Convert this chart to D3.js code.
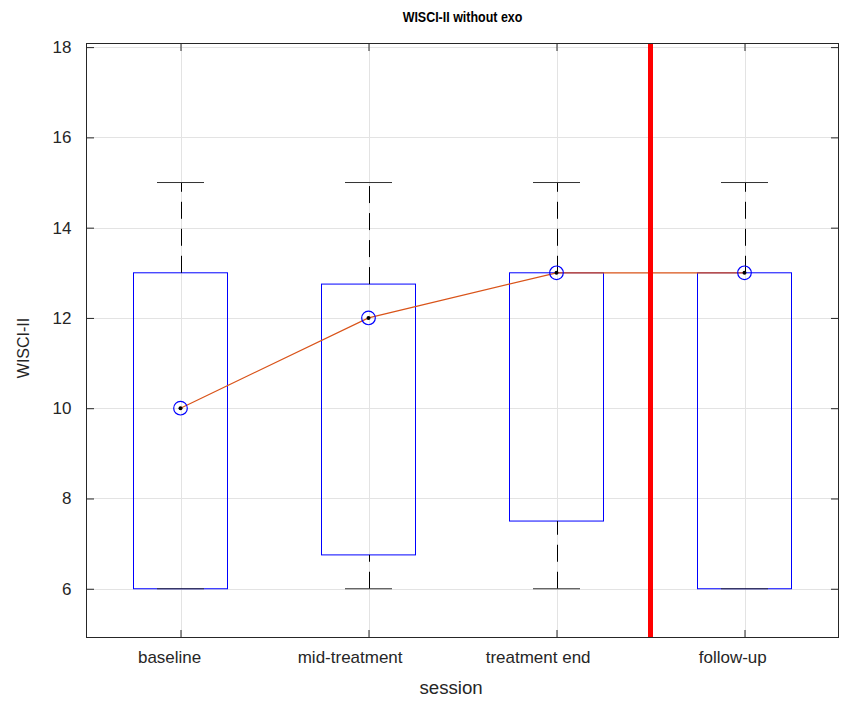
<!DOCTYPE html>
<html>
<head>
<meta charset="utf-8">
<script src="https://cdn.jsdelivr.net/npm/d3@7"></script>
<style>
  html, body { margin: 0; padding: 0; background: #fff; }
  svg { display: block; font-family: "Liberation Sans", Arial, sans-serif; }
</style>
</head>
<body>
<svg id="chart" width="844" height="702"></svg>
<script>
// Session categories and the box statistics per session
const sessions = ["baseline", "mid-treatment", "treatment end", "follow-up"];
const lowerWhisker = [6, 6, 6, 6];
const q1 = [6, 6.75, 7.5, 6];
const medians = [10, 12, 13, 13];
const q3 = [13, 12.75, 13, 13];
const upperWhisker = [15, 15, 15, 15];
const yTicks = [6, 8, 10, 12, 14, 16, 18];
const separatorAt = [3.5];

const svg = d3.select("#chart");
const plotLeft = 86.5, plotRight = 838.5, plotTop = 43.5, plotBottom = 637.5;
const axisColor = "#262626";
// horizontal labels sit slightly left of their anchor (start at 0.68 of their width)
const labelLead = 0.68;

const x = d3.scaleLinear().domain([0.5, 4.5]).range([plotLeft, plotRight]);
const y = d3.scaleLinear().domain([4.92, 18.08]).range([plotBottom, plotTop]);
const pos = sessions.map((_, i) => i + 1);
const boxHalf = 0.25, capHalf = 0.125;
const tickLen = 7.5;

// grid
const grid = svg.append("g").attr("stroke", "#e3e3e3").attr("stroke-width", 1);
grid.selectAll(".gy").data(yTicks).join("line")
  .attr("x1", plotLeft).attr("x2", plotRight)
  .attr("y1", d => Math.round(y(d)) + 0.5).attr("y2", d => Math.round(y(d)) + 0.5);
grid.selectAll(".gx").data(pos).join("line")
  .attr("y1", plotTop).attr("y2", plotBottom)
  .attr("x1", d => Math.round(x(d)) + 0.5).attr("x2", d => Math.round(x(d)) + 0.5);

// axes with inward ticks on all four sides
const fmt = i => sessions[i - 1];
const xb = svg.append("g").attr("transform", `translate(0,${plotBottom})`)
  .call(d3.axisBottom(x).tickValues(pos).tickFormat(fmt).tickSizeInner(-tickLen).tickSizeOuter(0).tickPadding(13));
const xt = svg.append("g").attr("transform", `translate(0,${plotTop})`)
  .call(d3.axisTop(x).tickValues(pos).tickFormat("").tickSizeInner(-tickLen).tickSizeOuter(0));
const yl = svg.append("g").attr("transform", `translate(${plotLeft},0)`)
  .call(d3.axisLeft(y).tickValues(yTicks).tickFormat(d3.format("d")).tickSizeInner(-tickLen).tickSizeOuter(0).tickPadding(15));
const yr = svg.append("g").attr("transform", `translate(${plotRight},0)`)
  .call(d3.axisRight(y).tickValues(yTicks).tickFormat("").tickSizeInner(-tickLen).tickSizeOuter(0));
[xb, xt, yl, yr].forEach(g => {
  g.select(".domain").remove();
  g.selectAll(".tick line").attr("stroke", axisColor);
  g.selectAll(".tick text").attr("font-size", 17).attr("fill", axisColor);
  g.attr("font-family", null);
});
xb.selectAll(".tick text").each(function () {
  const w = this.getComputedTextLength();
  d3.select(this).attr("text-anchor", "start").attr("x", -labelLead * w);
});

// boxes
const boxColor = "#0000ff";
svg.append("g").selectAll("rect").data(pos).join("rect")
  .attr("x", d => x(d - boxHalf))
  .attr("width", d => x(d + boxHalf) - x(d - boxHalf))
  .attr("y", (d, i) => y(q3[i]))
  .attr("height", (d, i) => y(q1[i]) - y(q3[i]))
  .attr("fill", "none").attr("stroke", boxColor).attr("stroke-width", 1);

// whiskers: dashed, dash pattern starting at the inner end of each segment
const wh = svg.append("g").attr("stroke", "#000").attr("stroke-width", 1).attr("stroke-dasharray", "17,10");
wh.selectAll(".up").data(pos).join("line")
  .attr("x1", d => Math.round(x(d)) + 0.5).attr("x2", d => Math.round(x(d)) + 0.5)
  .attr("y1", (d, i) => y(q3[i])).attr("y2", (d, i) => y(upperWhisker[i]));
wh.selectAll(".lo").data(pos).join("line")
  .attr("x1", d => Math.round(x(d)) + 0.5).attr("x2", d => Math.round(x(d)) + 0.5)
  .attr("y1", (d, i) => y(lowerWhisker[i])).attr("y2", (d, i) => y(q1[i]));

// whisker caps
const caps = svg.append("g").attr("stroke", "#333").attr("stroke-width", 1);
caps.selectAll(".cu").data(pos).join("line")
  .attr("x1", d => x(d - capHalf)).attr("x2", d => x(d + capHalf))
  .attr("y1", (d, i) => y(upperWhisker[i])).attr("y2", (d, i) => y(upperWhisker[i]));
caps.selectAll(".cl").data(pos).join("line")
  .attr("x1", d => x(d - capHalf)).attr("x2", d => x(d + capHalf))
  .attr("y1", (d, i) => y(lowerWhisker[i])).attr("y2", (d, i) => y(lowerWhisker[i]));

// line joining the medians
svg.append("path")
  .datum(pos)
  .attr("d", d3.line().x(d => x(d)).y((d, i) => y(medians[i])))
  .attr("fill", "none").attr("stroke", "#D95319").attr("stroke-width", 1.2);

// separator between treatment and follow-up
svg.append("g").selectAll("line").data(separatorAt).join("line")
  .attr("x1", d => x(d)).attr("x2", d => x(d))
  .attr("y1", plotTop).attr("y2", plotBottom)
  .attr("stroke", "#ff0000").attr("stroke-width", 5);

// median target markers
const mk = svg.append("g");
mk.selectAll("circle.ring").data(pos).join("circle").attr("class", "ring")
  .attr("cx", d => x(d)).attr("cy", (d, i) => y(medians[i])).attr("r", 6.8)
  .attr("fill", "none").attr("stroke", boxColor).attr("stroke-width", 1.2);
mk.selectAll("circle.dot").data(pos).join("circle").attr("class", "dot")
  .attr("cx", d => x(d)).attr("cy", (d, i) => y(medians[i])).attr("r", 2)
  .attr("fill", "#000");

// axes frame
svg.append("rect")
  .attr("x", plotLeft).attr("y", plotTop).attr("width", plotRight - plotLeft).attr("height", plotBottom - plotTop)
  .attr("fill", "none").attr("stroke", axisColor).attr("stroke-width", 1);

// title and axis labels
svg.append("text")
  .attr("transform", `translate(${(plotLeft + plotRight) / 2},22) scale(0.89,1)`)
  .attr("text-anchor", "middle").attr("font-size", 14).attr("font-weight", "bold")
  .attr("fill", "#000").text("WISCI-II without exo");
const xLabel = svg.append("text").attr("y", 694)
  .attr("font-size", 18.7).attr("fill", axisColor).text("session");
xLabel.attr("x", (plotLeft + plotRight) / 2 - labelLead * xLabel.node().getComputedTextLength());
svg.append("text").attr("transform", "translate(29,348) rotate(-90)")
  .attr("text-anchor", "middle").attr("font-size", 16).attr("fill", axisColor).text("WISCI-II");
</script>
</body>
</html>
